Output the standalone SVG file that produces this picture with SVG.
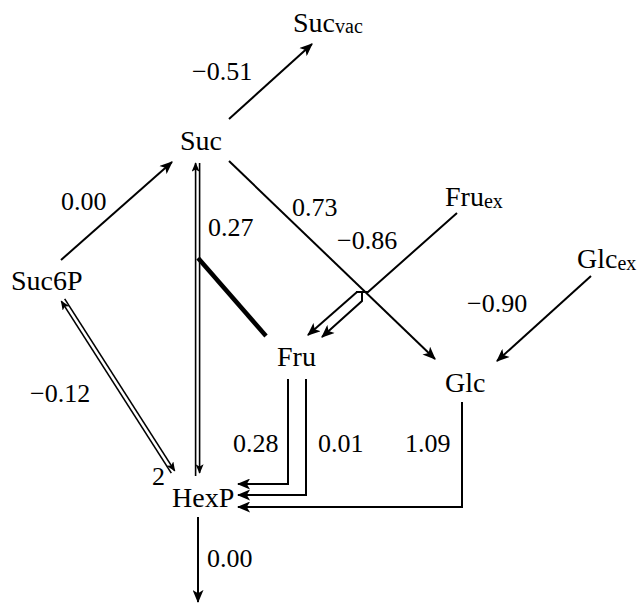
<svg xmlns="http://www.w3.org/2000/svg" width="639" height="604" viewBox="0 0 639 604">
<style>
text{font-family:"Liberation Serif","DejaVu Serif",serif;font-size:26px;fill:#000}
.n{font-size:28px}
.sub{font-size:20px}
.c{stroke:#000;stroke-width:2;fill:none}
.d{stroke:#000;stroke-width:1.6;fill:none}
</style>
<defs>
<marker id="ah" viewBox="0 0 12 10" refX="11" refY="5" markerWidth="14" markerHeight="11" markerUnits="userSpaceOnUse" orient="auto"><path d="M0,0 L12,5 L0,10 L3,5 Z" fill="#000"/></marker>
<marker id="as" viewBox="0 0 12 10" refX="11" refY="5" markerWidth="10" markerHeight="8" markerUnits="userSpaceOnUse" orient="auto-start-reverse"><path d="M0,0 L12,5 L0,10 L3,5 Z" fill="#000"/></marker>
</defs>
<rect width="639" height="604" fill="#fff"/>
<g id="connectors">
<line class="c" x1="229" y1="119" x2="312" y2="44" marker-end="url(#ah)"/>
<line class="c" x1="61" y1="260" x2="172" y2="162" marker-end="url(#ah)"/>
<line class="c" x1="229" y1="161" x2="435" y2="359" marker-end="url(#ah)"/>
<line class="c" x1="591" y1="276" x2="497" y2="361" marker-end="url(#ah)"/>
<line class="d" x1="61.3" y1="301.1" x2="171.3" y2="473.1" marker-start="url(#as)"/>
<line class="d" x1="64.7" y1="298.9" x2="174.7" y2="470.9" marker-end="url(#as)"/>
<line class="d" x1="195.6" y1="476" x2="195.6" y2="163" marker-end="url(#as)"/>
<line class="d" x1="199.6" y1="163" x2="199.6" y2="473" marker-end="url(#as)"/>
<line stroke="#000" stroke-width="4.5" x1="198" y1="258" x2="266" y2="336"/>
<polyline class="c" points="457,213 368,292 356,292"/>
<line class="c" x1="357" y1="292" x2="308" y2="335" marker-end="url(#ah)"/>
<polyline class="c" points="362,292 362,301 322,337" marker-end="url(#ah)"/>
<polyline class="c" stroke-width="2.4" points="288,379 288,484 238,484" marker-end="url(#ah)"/>
<polyline class="c" stroke-width="2.4" points="306,379 306,495 238,495" marker-end="url(#ah)"/>
<polyline class="c" stroke-width="2.4" points="462,402 462,507 238,507" marker-end="url(#ah)"/>
<line class="c" x1="198" y1="517" x2="198" y2="602" marker-end="url(#ah)"/>
</g>
<g id="Suc"><text class="n" x="180" y="150">Suc</text></g>
<g id="Sucvac"><text class="n" x="293" y="32">Suc<tspan class="sub" dy="1">vac</tspan></text></g>
<g id="Suc6P"><text class="n" x="11" y="290">Suc6P</text></g>
<g id="Fruex"><text class="n" x="445" y="206">Fru<tspan class="sub" dy="2">ex</tspan></text></g>
<g id="Glcex"><text class="n" x="577" y="268">Glc<tspan class="sub" dy="2">ex</tspan></text></g>
<g id="Fru"><text class="n" x="277" y="366">Fru</text></g>
<g id="Glc"><text class="n" x="445" y="392">Glc</text></g>
<g id="HexP"><text class="n" x="172" y="507">HexP</text></g>
<g id="labels">
<text x="192" y="80">−0.51</text>
<text x="61" y="210">0.00</text>
<text x="292" y="216">0.73</text>
<text x="208" y="236">0.27</text>
<text x="337" y="249">−0.86</text>
<text x="467" y="312">−0.90</text>
<text x="30" y="402">−0.12</text>
<text x="233" y="452">0.28</text>
<text x="318" y="452">0.01</text>
<text x="405" y="452">1.09</text>
<text x="152" y="485">2</text>
<text x="207" y="567">0.00</text>
</g>
</svg>
